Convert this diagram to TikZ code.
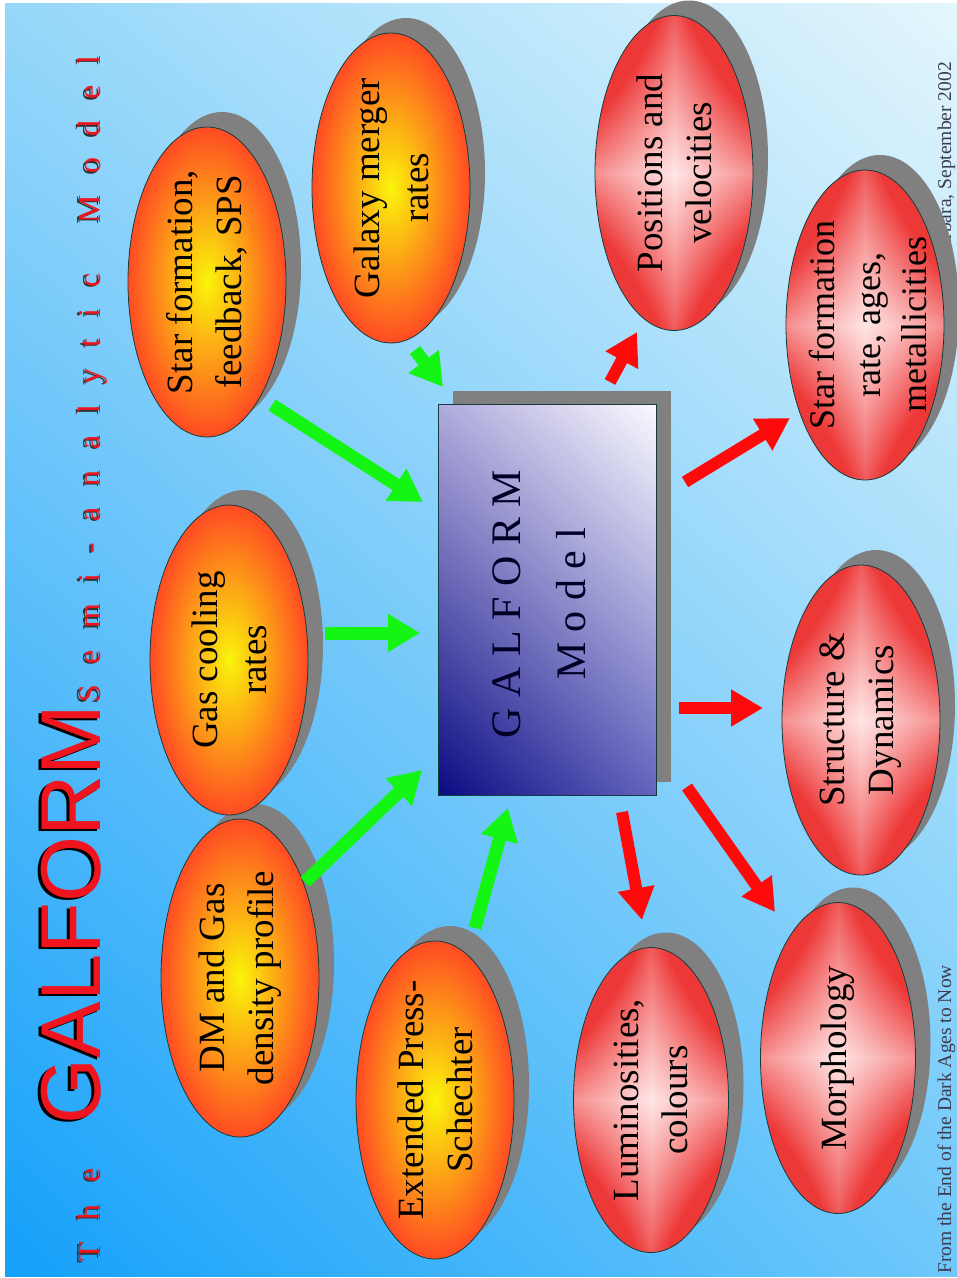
\documentclass[tikz,border=0pt]{standalone}
\usepackage{fontspec}
\setmainfont{Liberation Serif}
\newfontfamily\arialf{Liberation Sans}
\usetikzlibrary{arrows.meta,shapes.geometric,shadings}
\definecolor{bgUL}{RGB}{150,215,250}
\definecolor{bgUR}{RGB}{228,246,252}
\definecolor{bgLL}{RGB}{20,160,250}
\definecolor{bgLR}{RGB}{110,200,250}
\definecolor{ellYel}{RGB}{250,245,10}
\definecolor{ellOra}{RGB}{255,75,35}
\definecolor{shadowgray}{RGB}{128,128,128}
\definecolor{garrowc}{RGB}{20,245,20}
\definecolor{rarrowc}{RGB}{255,10,10}
\definecolor{titlered}{RGB}{240,20,30}
\definecolor{edgecol}{RGB}{20,60,60}
\definecolor{boxLL}{RGB}{10,10,130}
\definecolor{boxUR}{RGB}{250,250,255}
\definecolor{boxUL}{RGB}{175,170,220}
\definecolor{boxLR}{RGB}{100,100,190}
\definecolor{smalltxt}{RGB}{60,60,80}
\pgfdeclareradialshading{orangeball}{\pgfpoint{0bp}{0bp}}{color(0bp)=(ellYel); color(25bp)=(ellOra); color(50bp)=(ellOra)}
\pgfdeclarefunctionalshading{redcross}{\pgfpoint{-50bp}{-50bp}}{\pgfpoint{50bp}{50bp}}{}{
  abs 25 div exch abs 25 div
  2 copy mul 0.6 mul 3 1 roll
  0.5 mul exch 0.8 mul add add
  dup 1 gt {pop 1} if
  dup 0.07 mul 1 exch sub exch 0.68 mul 0.9 exch sub dup
}
\newdimen\ltrgap
\def\ltrsp#1{\ifx#1\relax\else#1\kern\ltrgap\expandafter\ltrsp\fi}
\tikzset{
  ell/.style={ellipse, draw=edgecol, line width=0.8pt, minimum width=158pt, minimum height=310pt, inner sep=0pt},
  oell/.style={ell, shading=orangeball},
  rell/.style={ell, shading=redcross},
  shd/.style={ellipse, fill=shadowgray, minimum width=158pt, minimum height=310pt, inner sep=0pt},
  lbl/.style={rotate=90, align=center, inner sep=0pt, text=black, font=\fontsize{37}{49}\selectfont},
  garrow/.style={draw=garrowc, line width=13pt, -{Triangle[length=32pt,width=36pt]}},
  rarrow/.style={draw=rarrowc, line width=12pt, -{Triangle[length=32pt,width=35pt]}},
  ttl/.style={rotate=90, anchor=base west, inner sep=0pt, font=\fontsize{32}{32}\selectfont},
  gal/.style={rotate=90, anchor=base west, inner sep=0pt, font=\arialf\fontsize{85}{85}\selectfont},
  small/.style={rotate=90, inner sep=0pt, text=smalltxt, font=\fontsize{19.5}{20}\selectfont},
}
\begin{document}
\begin{tikzpicture}[x=1pt,y=-1pt]
\useasboundingbox (0,0) rectangle (957,1278);
\fill[white] (0,0) rectangle (957,1278);
\shade[upper left=bgUL, upper right=bgUR, lower left=bgLL, lower right=bgLR] (5,3) rectangle (957,1276);

% small texts
\node[small, anchor=base east] (date) at (951,62) {Santa Barbara, September 2002};
\node[small, anchor=base west] (conf) at (951,1274) {From the End of the Dark Ages to Now};

% shadows
\node[shd] (s1) at (222,267) {};
\node[shd] (s2) at (406,173) {};
\node[shd] (s3) at (244,645) {};
\node[shd, minimum height=318pt] (s4) at (255,963) {};
\node[shd, minimum height=318pt] (s5) at (450,1085) {};
\node[shd, minimum height=315pt] (s6) at (689,158) {};
\node[shd] (s7) at (880,310) {};
\node[shd] (s8) at (876,705) {};
\node[shd, minimum width=155pt, minimum height=305pt] (s9) at (666,1085) {};
\node[shd, minimum width=155pt, minimum height=311pt] (s10) at (853,1043) {};

% input ellipses
\node[oell] (sf) at (207,282) {};
\node[oell] (gm) at (391,188) {};
\node[oell] (gc) at (229,660) {};
\node[oell, minimum height=318pt] (dm) at (240,978) {};
\node[oell, minimum height=318pt] (eps) at (435,1100) {};
% output ellipses
\node[rell, minimum height=315pt] (pv) at (674,173) {};
\node[rell] (sfr) at (865,325) {};
\node[rell] (sd) at (861,720) {};
\node[rell, minimum width=155pt, minimum height=305pt] (lum) at (651,1100) {};
\node[rell, minimum width=155pt, minimum height=311pt] (mo) at (838,1058) {};

% labels
\node[lbl] (sft) at (sf) {Star formation,\\feedback, SPS};
\node[lbl] (gmt) at (gm) {Galaxy merger\\rates};
\node[lbl] (gct) at (gc) {Gas cooling\\rates};
\node[lbl] (dmt) at (dm) {DM and Gas\\density profile};
\node[lbl] (epst) at (eps) {Extended Press-\\Schechter};
\node[lbl] (pvt) at (pv) {Positions and\\velocities};
\node[lbl, font=\fontsize{36}{46}\selectfont] (sfrt) at (868,325) {Star formation\\rate, ages,\\metallicities};
\node[lbl] (sdt) at (sd) {Structure \&\\Dynamics};
\node[lbl] (lumt) at (lum) {Luminosities,\\colours};
\node[lbl] (mot) at (mo) {Morphology};

% central box
\node[fill=shadowgray, minimum width=218pt, minimum height=391pt, inner sep=0pt] (boxs) at (562,586.5) {};
\node[draw=edgecol, line width=0.8pt, upper left=boxUL, upper right=boxUR, lower left=boxLL, lower right=boxLR, minimum width=218pt, minimum height=391pt, inner sep=0pt] (box) at (547,599.5) {};
\node[rotate=90, align=center, inner sep=0pt, text=black!85!blue, font=\fontsize{42}{65}\selectfont] (boxt) at (539,604) {G A L F O R M\\M o d e l};

% arrow end points
\coordinate (g1s) at (272,405); \coordinate (g1e) at (423,502);
\coordinate (g2s) at (415,350); \coordinate (g2e) at (443,387);
\coordinate (g3s) at (325,633); \coordinate (g3e) at (420,633);
\coordinate (g4s) at (305,882); \coordinate (g4e) at (422,770);
\coordinate (g5s) at (475,928); \coordinate (g5e) at (508,808);
\coordinate (r1s) at (610,382); \coordinate (r1e) at (637,332);
\coordinate (r2s) at (685,482); \coordinate (r2e) at (790,418);
\coordinate (r3s) at (679,708); \coordinate (r3e) at (763,708);
\coordinate (r4s) at (622,812); \coordinate (r4e) at (642,920);
\coordinate (r5s) at (687,787); \coordinate (r5e) at (775,912);
\draw[garrow] (g1s) -- (g1e);
\draw[garrow] (g2s) -- (g2e);
\draw[garrow] (g3s) -- (g3e);
\draw[garrow] (g4s) -- (g4e);
\draw[garrow] (g5s) -- (g5e);
\draw[rarrow] (r1s) -- (r1e);
\draw[rarrow] (r2s) -- (r2e);
\draw[rarrow] (r3s) -- (r3e);
\draw[rarrow] (r4s) -- (r4e);
\draw[rarrow] (r5s) -- (r5e);

% title
\node[ttl, text=black!80] (theS) at (98.5,1263.5) {\ltrgap=22pt\ltrsp The\relax};
\node[ttl, text=titlered] (the) at (100,1262) {\ltrgap=22pt\ltrsp The\relax};
\node[gal, text=black] (galS) at (97.5,1127) {GALFORM};
\node[gal, text=titlered] (gal) at (100,1125) {GALFORM};
\node[ttl, text=black!80] (semiS) at (98.5,704.5) {\ltrgap=21pt\ltrsp Semi-analytic~Model\relax};
\node[ttl, text=titlered] (semi) at (100,703) {\ltrgap=21pt\ltrsp Semi-analytic~Model\relax};
\end{tikzpicture}
\end{document}
